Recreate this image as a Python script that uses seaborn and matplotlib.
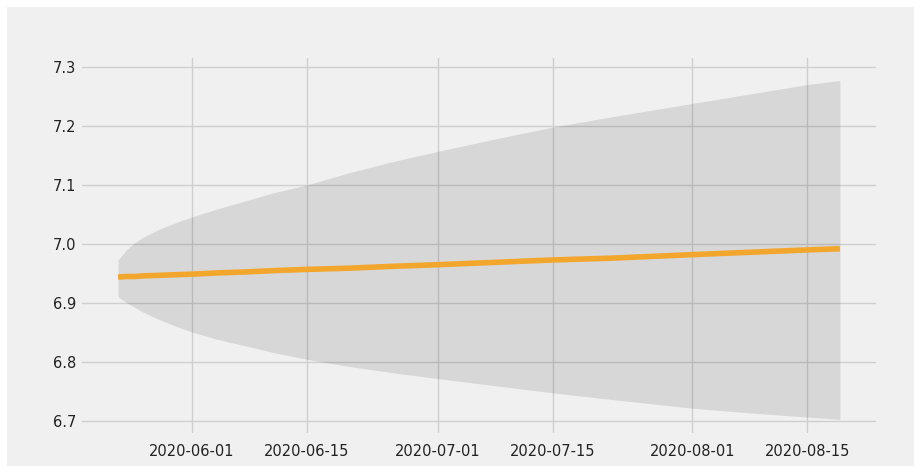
import pandas as pd
import seaborn as sns
import matplotlib.pyplot as plt
import matplotlib.dates as mdates
from matplotlib.patches import Rectangle

# Forecast values
dates = ["2020-05-23", "2020-05-24", "2020-05-25", "2020-05-26", "2020-05-28",
         "2020-05-30", "2020-06-01", "2020-06-04", "2020-06-08", "2020-06-11",
         "2020-06-15", "2020-06-20", "2020-06-25", "2020-07-01", "2020-07-08",
         "2020-07-15", "2020-07-22", "2020-08-01", "2020-08-08", "2020-08-15",
         "2020-08-19"]
forecast = [6.944, 6.945, 6.945, 6.946, 6.947, 6.948, 6.949, 6.951, 6.953,
            6.955, 6.957, 6.959, 6.962, 6.965, 6.969, 6.973, 6.976, 6.982,
            6.986, 6.990, 6.992]
upper = [6.973, 6.990, 7.002, 7.011, 7.025, 7.036, 7.046, 7.059, 7.075,
         7.087, 7.100, 7.120, 7.138, 7.157, 7.178, 7.198, 7.215, 7.238,
         7.254, 7.270, 7.277]
lower = [6.911, 6.901, 6.893, 6.885, 6.872, 6.861, 6.851, 6.839, 6.826,
         6.816, 6.805, 6.793, 6.783, 6.772, 6.760, 6.748, 6.737, 6.722,
         6.714, 6.707, 6.703]

BG = "#f0f0f0"

df = pd.DataFrame({"date": pd.to_datetime(dates), "forecast": forecast,
                   "upper": upper, "lower": lower})

sns.set_style("whitegrid", {"axes.facecolor": BG, "grid.color": "#cbcbcb",
                            "axes.edgecolor": BG})
plt.rcParams["font.family"] = ["DejaVu Sans"]

fig = plt.figure(figsize=(9.14, 4.66), dpi=100)
fig.patch.set_facecolor("white")
# light grey canvas with a thin white strip on top and left, as in the screenshot
fig.patches.append(Rectangle((7 / 914, 0), 1 - 7 / 914, 1 - 7 / 466,
                             transform=fig.transFigure, facecolor=BG,
                             edgecolor="none", zorder=-10))

ax = fig.add_axes([82 / 914, 33 / 466, 794 / 914, 375 / 466])
ax.fill_between(df["date"], df["lower"], df["upper"], color="k", alpha=0.1,
                linewidth=0)
sns.lineplot(data=df, x="date", y="forecast", ax=ax, color="#f2a62c",
             linewidth=4, solid_capstyle="butt")

ax.set_ylim(6.68, 7.315)
ax.set_yticks([6.7, 6.8, 6.9, 7.0, 7.1, 7.2, 7.3])
ax.xaxis.set_major_locator(mdates.DayLocator(bymonthday=[1, 15]))
ax.xaxis.set_major_formatter(mdates.DateFormatter("%Y-%m-%d"))
ax.set_xlabel("")
ax.set_ylabel("")
ax.grid(True, color="#cfcfcf", linewidth=1)
ax.tick_params(axis="both", length=0, labelsize=10.5, colors="#222222")
ax.tick_params(axis="x", pad=8)
ax.tick_params(axis="y", pad=4)
for s in ax.spines.values():
    s.set_visible(False)

fig.savefig("out.png", dpi=100, facecolor=fig.get_facecolor())
